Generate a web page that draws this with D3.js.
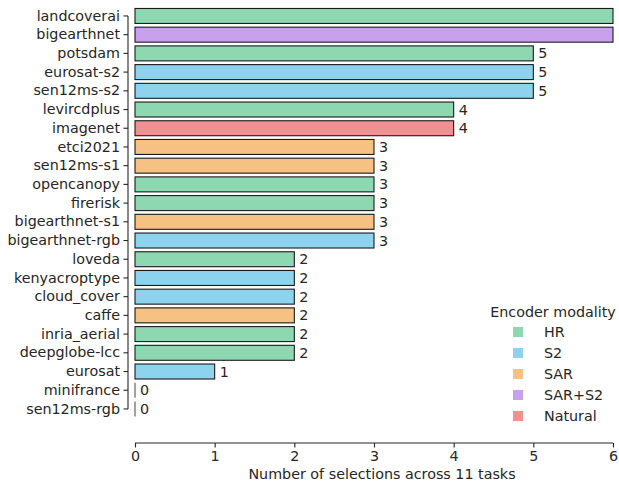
<!DOCTYPE html>
<html>
<head>
<meta charset="utf-8">
<script src="https://cdn.jsdelivr.net/npm/d3@7"></script>
<style>
  html, body { margin: 0; padding: 0; background: #fff; }
  svg { display: block; font-family: "DejaVu Sans", sans-serif; }
</style>
</head>
<body>
<svg id="chart" width="619" height="485"></svg>
<script>
// Datasets, how often each was selected, and the encoder modality behind it
const datasets = ["landcoverai", "bigearthnet", "potsdam", "eurosat-s2", "sen12ms-s2", "levircdplus",
  "imagenet", "etci2021", "sen12ms-s1", "opencanopy", "firerisk", "bigearthnet-s1", "bigearthnet-rgb",
  "loveda", "kenyacroptype", "cloud_cover", "caffe", "inria_aerial", "deepglobe-lcc", "eurosat",
  "minifrance", "sen12ms-rgb"];
const selections = [6, 6, 5, 5, 5, 4, 4, 3, 3, 3, 3, 3, 3, 2, 2, 2, 2, 2, 2, 1, 0, 0];
const modality = ["HR", "SAR+S2", "HR", "S2", "S2", "HR", "Natural", "SAR", "SAR", "HR", "HR", "SAR",
  "S2", "HR", "S2", "S2", "SAR", "HR", "HR", "S2", "HR", "HR"];
const modalities = ["HR", "S2", "SAR", "SAR+S2", "Natural"];
const modalityColors = ["#8dd8b0", "#8dd3ee", "#f5c284", "#c8a0ee", "#f09090"];
const xTicks = [0, 1, 2, 3, 4, 5, 6];
const xMax = 6;

const ink = "#262626";
const fontSize = "14.3px";
const svg = d3.select("#chart");

const x = d3.scaleLinear().domain([0, xMax]).range([135, 613]);
const y = d3.scaleBand().domain(datasets).range([6.6, 418.3]).paddingInner(0.2).paddingOuter(0.1);
const color = d3.scaleOrdinal().domain(modalities).range(modalityColors);

const rows = datasets.map((d, i) => ({ name: d, value: selections[i], mod: modality[i] }));

// Bars
svg.append("g").selectAll("rect").data(rows.filter(d => d.value > 0)).join("rect")
  .attr("x", x(0))
  .attr("y", d => y(d.name))
  .attr("width", d => x(d.value) - x(0))
  .attr("height", y.bandwidth())
  .attr("fill", d => color(d.mod))
  .attr("stroke", "#1a1a1a")
  .attr("stroke-width", 1.1);

// Zero-length bars still show their outline as a thin vertical stroke
svg.append("g").selectAll("line").data(rows.filter(d => d.value === 0)).join("line")
  .attr("x1", x(0)).attr("x2", x(0))
  .attr("y1", d => y(d.name))
  .attr("y2", d => y(d.name) + y.bandwidth())
  .attr("stroke", "#555")
  .attr("stroke-width", 1.1);

// Value labels (the two bars at the axis maximum carry none)
svg.append("g").selectAll("text").data(rows.filter(d => d.value < xMax)).join("text")
  .attr("x", d => x(d.value) + 5)
  .attr("y", d => y(d.name) + y.bandwidth() / 2)
  .attr("dy", "0.35em")
  .attr("fill", ink)
  .style("font-size", fontSize)
  .text(d => d.value);

// Y axis: trimmed spine offset left of the bars
const yAxis = svg.append("g").attr("transform", "translate(128,0)")
  .call(d3.axisLeft(y).tickSize(4.5).tickPadding(3.5));
yAxis.select(".domain")
  .attr("d", `M0,${y(datasets[0]) + y.bandwidth() / 2}V${y(datasets[datasets.length - 1]) + y.bandwidth() / 2}`);
yAxis.selectAll("line, .domain").attr("stroke", ink).attr("stroke-width", 1.1);
yAxis.selectAll("text").attr("fill", ink).style("font-size", fontSize).style("font-family", "DejaVu Sans");

// X axis: offset below the plot area
const xAxis = svg.append("g").attr("transform", "translate(0,443)")
  .call(d3.axisBottom(x).tickValues(xTicks).tickFormat(d3.format("d")).tickSize(4.5).tickPadding(3.5));
xAxis.select(".domain").attr("d", `M${x(0)},0H${x(xMax)}`);
xAxis.selectAll("line, .domain").attr("stroke", ink).attr("stroke-width", 1.1);
xAxis.selectAll("text").attr("fill", ink).style("font-size", fontSize).style("font-family", "DejaVu Sans");

svg.append("text")
  .attr("x", (x(0) + x(xMax)) / 2 + 8)
  .attr("y", 479)
  .attr("text-anchor", "middle")
  .attr("fill", ink)
  .style("font-size", fontSize)
  .text("Number of selections across 11 tasks");

// Legend
const legend = svg.append("g");
legend.append("text")
  .attr("x", 553).attr("y", 317)
  .attr("text-anchor", "middle")
  .attr("fill", ink)
  .style("font-size", fontSize)
  .text("Encoder modality");
const items = legend.selectAll("g.item").data(modalities).join("g")
  .attr("class", "item")
  .attr("transform", (d, i) => `translate(0,${332 + i * 21})`);
items.append("rect")
  .attr("x", 513).attr("y", -5)
  .attr("width", 10).attr("height", 10)
  .attr("fill", d => color(d));
items.append("text")
  .attr("x", 544).attr("y", 0)
  .attr("dy", "0.35em")
  .attr("fill", ink)
  .style("font-size", fontSize)
  .text(d => d);
</script>
</body>
</html>
